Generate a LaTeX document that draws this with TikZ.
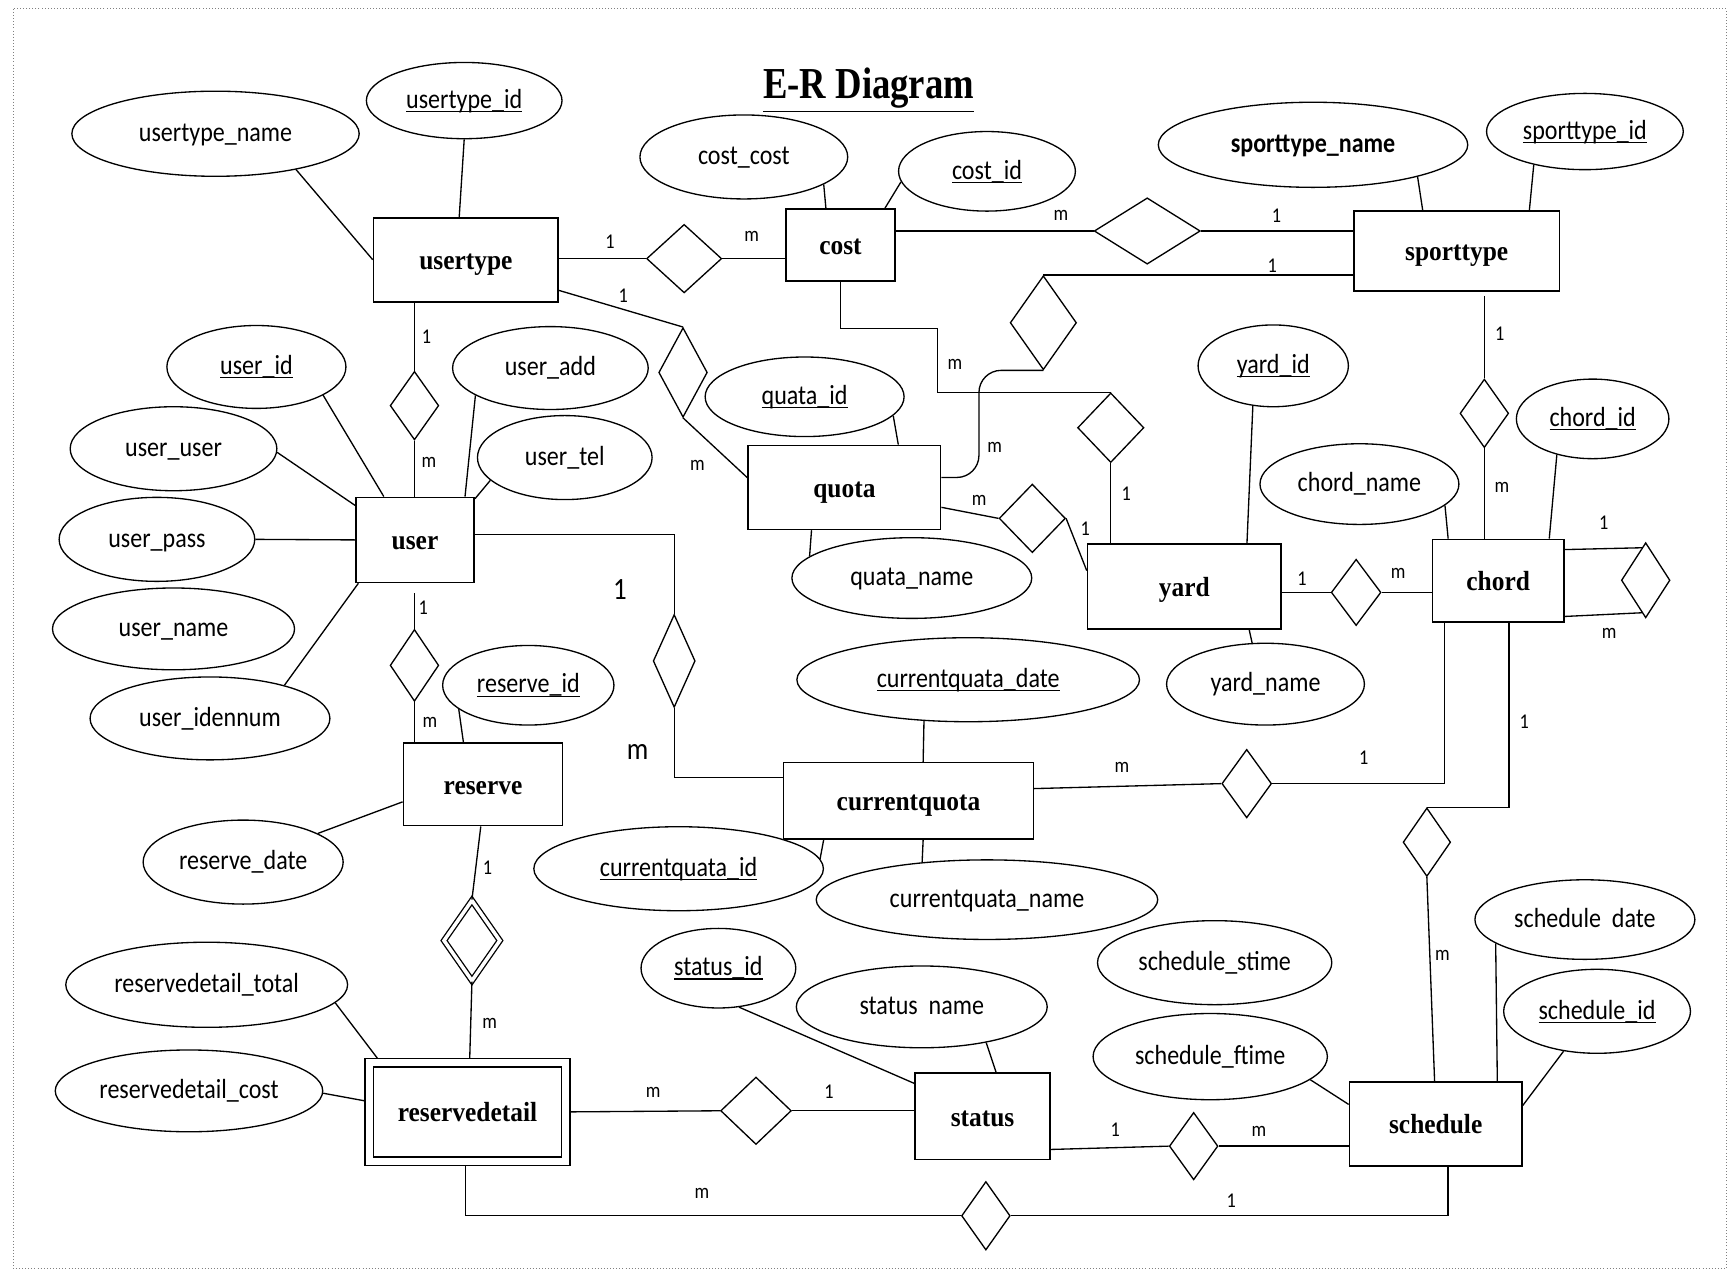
\documentclass[tikz,border=0pt]{standalone}
\usepackage{fontspec}
\setmainfont{Liberation Serif}
\newfontfamily\attrfont[FakeStretch=0.87]{Carlito}
\newfontfamily\entfont[FakeStretch=0.92]{Liberation Serif}
\newfontfamily\ttlfont[FakeStretch=0.83]{Liberation Serif}
\usetikzlibrary{shapes.geometric,calc}
\newsavebox\keybox
\newcommand{\keyul}[1]{\sbox\keybox{#1}\rlap{\rule[-1.7pt]{\wd\keybox}{0.55pt}}\usebox\keybox}
\begin{document}
\begin{tikzpicture}[x=0.5pt,y=-0.5pt,
 ent/.style={draw, rectangle, line width=0.75pt, inner sep=0pt, text height=10pt, text depth=1pt, font=\entfont\fontsize{12.5}{14}\selectfont\bfseries},
 attr/.style={draw, ellipse, line width=0.6pt, inner sep=0pt, text height=9pt, text depth=2pt, font=\attrfont\fontsize{12.5}{14}\selectfont},
 rel/.style={draw, diamond, line width=0.6pt, inner sep=0pt, shape aspect=1},
 lbl/.style={inner sep=0pt, font=\attrfont\fontsize{9.5}{11}\selectfont},
 biglbl/.style={inner sep=0pt, font=\attrfont\fontsize{14}{16}\selectfont},
 conn/.style={line width=0.6pt}
]
\useasboundingbox (0,0) rectangle (1568,1152);
\draw[densely dotted, gray, line width=0.4pt] (12,8) rectangle (1562,1148);

% title
\node[inner sep=0pt, font=\ttlfont\fontsize{20}{24}\selectfont\bfseries] (title) at (786,82) {\underline{E-R Diagram}};

% entities
\node[ent, minimum width=83.5pt, minimum height=38pt] (usertype) at (421.5,235) {usertype};
\node[ent, minimum width=49.5pt, minimum height=32.5pt] (cost) at (760.5,221.5) {cost};
\node[ent, minimum width=93pt, minimum height=36pt] (sporttype) at (1318,227) {sporttype};
\node[ent, minimum width=53.5pt, minimum height=38.5pt] (user) at (375.5,488.5) {user};
\node[ent, minimum width=87pt, minimum height=38pt] (quota) at (764,441) {quota};
\node[ent, minimum width=87.5pt, minimum height=38.5pt] (yard) at (1071.5,530.5) {yard};
\node[ent, minimum width=59.5pt, minimum height=37.5pt] (chord) at (1355.5,525.5) {chord};
\node[ent, minimum width=72pt, minimum height=37.5pt] (reserve) at (437,709.5) {reserve};
\node[ent, minimum width=113pt, minimum height=34.5pt] (currentquota) at (822,724.5) {currentquota};
\node[ent, minimum width=89pt, minimum height=44.5pt, double, line width=0.6pt, double distance=3.2pt] (reservedetail) at (423,1006) {reservedetail};
\node[ent, minimum width=61pt, minimum height=39pt] (status) at (889,1010) {status};
\node[ent, minimum width=78pt, minimum height=38pt] (schedule) at (1299,1017) {schedule};

% attributes
\node[attr, minimum width=130pt, minimum height=38.5pt] (utname) at (195,121) {usertype\_name};
\node[attr, minimum width=88.5pt, minimum height=34.5pt] (utid) at (420,91) {\keyul{usertype\_id}};
\node[attr, minimum width=94pt, minimum height=38pt] (costcost) at (673,142) {cost\_cost};
\node[attr, minimum width=80pt, minimum height=36pt] (costid) at (893,155) {\keyul{cost\_id}};
\node[attr, minimum width=140pt, minimum height=38.5pt, font=\attrfont\fontsize{12.5}{14}\selectfont\bfseries] (stname) at (1188,131) {sporttype\_name};
\node[attr, minimum width=89pt, minimum height=34.5pt] (stid) at (1434,119) {\keyul{sporttype\_id}};
\node[attr, minimum width=81pt, minimum height=37.5pt] (userid) at (232,332) {\keyul{user\_id}};
\node[attr, minimum width=88.5pt, minimum height=37.5pt] (useradd) at (498,333) {user\_add};
\node[attr, minimum width=93.5pt, minimum height=38pt] (useruser) at (157,406) {user\_user};
\node[attr, minimum width=79pt, minimum height=38pt] (usertel) at (511,414) {user\_tel};
\node[attr, minimum width=88.5pt, minimum height=38pt] (userpass) at (142,488) {user\_pass};
\node[attr, minimum width=109.5pt, minimum height=37pt] (username) at (157,569) {user\_name};
\node[attr, minimum width=108.5pt, minimum height=37.5pt] (useriden) at (190,650) {user\_idennum};
\node[attr, minimum width=90pt, minimum height=36pt] (quataid) at (728,359) {\keyul{quata\_id}};
\node[attr, minimum width=108.5pt, minimum height=36.5pt] (quataname) at (825,523) {quata\_name};
\node[attr, minimum width=68pt, minimum height=37pt] (yardid) at (1152,331) {\keyul{yard\_id}};
\node[attr, minimum width=90pt, minimum height=36.5pt] (chordname) at (1230,438) {chord\_name};
\node[attr, minimum width=69pt, minimum height=36pt] (chordid) at (1441,379) {\keyul{chord\_id}};
\node[attr, minimum width=89.5pt, minimum height=37pt] (yardname) at (1145,619) {yard\_name};
\node[attr, minimum width=155pt, minimum height=38pt] (cqdate) at (876,615) {\keyul{currentquata\_date}};
\node[attr, minimum width=77.5pt, minimum height=36pt] (reserveid) at (478,620) {\keyul{reserve\_id}};
\node[attr, minimum width=90.5pt, minimum height=38pt] (reservedate) at (220,780) {reserve\_date};
\node[attr, minimum width=131pt, minimum height=38pt] (cqid) at (614,786) {\keyul{currentquata\_id}};
\node[attr, minimum width=154.5pt, minimum height=36pt] (cqname) at (893,814) {currentquata\_name};
\node[attr, minimum width=70pt, minimum height=36pt] (statusid) at (650,876) {\keyul{status\_id}};
\node[attr, minimum width=113.5pt, minimum height=37pt] (statusname) at (834,911) {status~~name};
\node[attr, minimum width=106pt, minimum height=38pt] (schstime) at (1099,871) {schedule\_stime};
\node[attr, minimum width=106pt, minimum height=39pt] (schftime) at (1095,956) {schedule\_ftime};
\node[attr, minimum width=99.5pt, minimum height=36pt] (schdate) at (1434,832) {schedule~~date};
\node[attr, minimum width=84.5pt, minimum height=38pt] (schid) at (1445,915) {\keyul{schedule\_id}};
\node[attr, minimum width=127.5pt, minimum height=38.5pt] (rdtotal) at (187,891) {reservedetail\_total};
\node[attr, minimum width=121pt, minimum height=37pt] (rdcost) at (171,987) {reservedetail\_cost};

% relationships
\node[rel, minimum width=34pt, minimum height=31pt] (r_uc) at (619,234) {};
\node[rel, minimum width=48pt, minimum height=30pt] (r_cs) at (1038,209) {};
\node[rel, minimum width=22pt, minimum height=31pt] (r_uu) at (375,367) {};
\node[rel, minimum width=22pt, minimum height=40.5pt] (r_uq) at (618,337) {};
\node[rel, minimum width=30pt, minimum height=31.5pt] (r_cy) at (1005,387) {};
\node[rel, minimum width=30pt, minimum height=42.5pt] (r_sq) at (944,292) {};
\node[rel, minimum width=30pt, minimum height=31pt] (r_qy) at (934,469) {};
\node[rel, minimum width=22.5pt, minimum height=30pt] (r_yc) at (1227,536) {};
\node[rel, minimum width=22pt, minimum height=34pt] (r_cc) at (1489,525) {};
\node[rel, minimum width=22pt, minimum height=31pt] (r_sc) at (1343,374) {};
\node[rel, minimum width=19pt, minimum height=42pt] (r_ucq) at (610,598) {};
\node[rel, minimum width=22pt, minimum height=32.5pt] (r_ur) at (375,602) {};
\node[rel, minimum width=25.5pt, minimum height=36.5pt, double, double distance=1.6pt] (r_rr) at (427,851) {};
\node[rel, minimum width=22.5pt, minimum height=31pt] (r_cqc) at (1128,709) {};
\node[rel, minimum width=21.5pt, minimum height=31pt] (r_chs) at (1291,762) {};
\node[rel, minimum width=32pt, minimum height=30.5pt] (r_rs) at (684,1005) {};
\node[rel, minimum width=22pt, minimum height=30.5pt] (r_ss) at (1080,1037) {};
\node[rel, minimum width=22pt, minimum height=31pt] (r_rsch) at (892,1100) {};

\coordinate (bend1) at (848,297);

% relationship connectors
\begin{scope}[conn]
\draw (r_uc.west -| usertype.east) -- (r_uc.west);
\draw (r_uc.east) -- (r_uc.east -| cost.west);
\draw (r_cs.west -| cost.east) -- (r_cs.west);
\draw (r_cs.east) -- (r_cs.east -| sporttype.west);
\draw (usertype.south -| r_uu) -- (r_uu.north);
\draw (r_uu.south) -- (r_uu.south |- user.north);
\draw ($(usertype.south east)+(0,-11)$) -- (r_uq.north);
\draw (r_uq.south) -- ($(quota.north west)+(0,30)$);
\draw (cost.south) |- (bend1) |- (r_cy.north);
\draw (r_cy.south) -- (r_cy.south |- yard.north);
\draw (r_sq.north -| sporttype.west) -- (r_sq.north);
\draw[rounded corners=10pt] (r_sq.south) -| ($(quota.east)+(34,-9)$) [sharp corners] -- ($(quota.east)+(0,-9)$);
\draw ($(quota.east)+(0,18)$) -- (r_qy.west);
\draw (r_qy.east) -- ($(yard.north west)+(0,25)$);
\draw (r_yc.west -| yard.east) -- (r_yc.west);
\draw (r_yc.east) -- (r_yc.east -| chord.west);
\draw ($(chord.north east)+(0,10)$) -- ($(r_cc.north)!0.15!(r_cc.west)$);
\draw ($(chord.south east)+(0,-6)$) -- ($(r_cc.south)!0.15!(r_cc.west)$);
\draw ($(sporttype.south -| r_sc)+(0,4)$) -- (r_sc.north);
\draw (r_sc.south) -- (r_sc.south |- chord.north);
\draw ($(user.east)+(0,-5)$) -| (r_ucq.north);
\draw (r_ucq.south) |- ($(currentquota.west)+(0,-21)$);
\draw ($(user.south -| r_ur)+(0,9)$) -- (r_ur.north);
\draw (r_ur.south) -- (r_ur.south |- reserve.north);
\draw ($(reserve.south)+(-2,0)$) -- (r_rr.north);
\draw (r_rr.south) -- ($(reservedetail.north)+(2,-3.5)$);
\draw ($(currentquota.east)+(0,-11)$) -- (r_cqc.west);
\draw (r_cqc.east) -| ($(chord.south west)+(12,0)$);
\draw ($(chord.south west)+(70,0)$) |- (r_chs.north);
\draw (r_chs.south) -- ($(schedule.north)+(-1,0)$);
\draw ($(reservedetail.east)+(3.5,0)$) -- (r_rs.west);
\draw (r_rs.east) -- (r_rs.east -| status.west);
\draw ($(status.east)+(0,30)$) -- (r_ss.west);
\draw (r_ss.east) -- (r_ss.east -| schedule.west);
\draw ($(reservedetail.south)+(-2,3.5)$) |- (r_rsch.west);
\draw (r_rsch.east) -| ($(schedule.south)+(11,0)$);
\end{scope}

% attribute connectors
\begin{scope}[conn]
\draw (utname.-24.5) -- (usertype.west);
\draw (utid.south) -- ($(usertype.north)+(-6,0)$);
\draw (costcost.-19.5) -- ($(cost.north west)+(37,0)$);
\draw (costid.187) -- ($(cost.north east)+(-10,0)$);
\draw (stname.-17.5) -- ($(sporttype.north west)+(63,0)$);
\draw (stid.-147) -- ($(sporttype.north east)+(-28,0)$);
\draw (userid.-23) -- ($(user.north west)+(26,0)$);
\draw (useruser.-2.5) -- ($(user.north west)+(0,8)$);
\draw (userpass.east) -- (user.west);
\draw (useriden.24.6) -- ($(user.south west)+(3,0)$);
\draw (useradd.200.7) -- ($(user.north east)+(-9,0)$);
\draw (usertel.197.4) -- ($(user.north east)+(0,2)$);
\draw (quataid.-12.7) -- ($(quota.north east)+(-39,0)$);
\draw (quataname.168.4) -- ($(quota.south west)+(58,0)$);
\draw (yardid.-117.8) -- ($(yard.north west)+(145,0)$);
\draw (yardname.108.4) -- ($(yard.south west)+(147,0)$);
\draw (chordname.-14.4) -- ($(chord.north west)+(15,0)$);
\draw (chordid.-135) -- ($(chord.north east)+(-14,0)$);
\draw (cqdate.-137) -- ($(currentquota.north west)+(127,0)$);
\draw (cqid.4.5) -- ($(currentquota.south west)+(37,0)$);
\draw (cqname.150) -- ($(currentquota.south west)+(127,0)$);
\draw (reserveid.199.5) -- ($(reserve.north west)+(55,0)$);
\draw (reservedate.21.3) -- ($(reserve.west)+(0,16)$);
\draw (rdtotal.-8) -- ($(reservedetail.north west)+(8,-3.5)$);
\draw (rdcost.-1.4) -- ($(reservedetail.west)+(-3.5,-10)$);
\draw (statusid.-62) -- ($(status.north west)+(0,10)$);
\draw (statusname.-29) -- ($(status.north west)+(74,0)$);
\draw (schftime.-13) -- ($(schedule.north west)+(0,21)$);
\draw (schdate.195.3) -- ($(schedule.north east)+(-23,0)$);
\draw (schid.-130) -- ($(schedule.north east)+(0,22)$);
\end{scope}

% cardinality labels
\node[lbl] (l1) at (552,219) {1};
\node[lbl] (l2) at (680,214) {m};
\node[lbl] (l3) at (960,195) {m};
\node[lbl] (l4) at (1155,195) {1};
\node[lbl] (l5) at (1151,240) {1};
\node[lbl] (l6) at (564,268) {1};
\node[lbl] (l7) at (631,421) {m};
\node[lbl] (l8) at (386,305) {1};
\node[lbl] (l9) at (388,418) {m};
\node[lbl] (l10) at (864,330) {m};
\node[lbl] (l11) at (1019,447) {1};
\node[lbl] (l12) at (900,405) {m};
\node[lbl] (l13) at (886,453) {m};
\node[lbl] (l14) at (982,478) {1};
\node[lbl] (l15) at (1178,524) {1};
\node[lbl] (l16) at (1265,519) {m};
\node[lbl] (l17) at (1451,473) {1};
\node[lbl] (l18) at (1456,573) {m};
\node[lbl] (l19) at (1357,302) {1};
\node[lbl] (l20) at (1359,441) {m};
\node[biglbl] (l21) at (561,533) {1};
\node[biglbl] (l22) at (577,680) {m};
\node[lbl] (l23) at (383,550) {1};
\node[lbl] (l24) at (389,654) {m};
\node[lbl] (l25) at (441,785) {1};
\node[lbl] (l26) at (443,926) {m};
\node[lbl] (l27) at (1015,694) {m};
\node[lbl] (l28) at (1234,686) {1};
\node[lbl] (l29) at (1379,653) {1};
\node[lbl] (l30) at (1305,864) {m};
\node[lbl] (l31) at (591,988) {m};
\node[lbl] (l32) at (750,988) {1};
\node[lbl] (l33) at (1009,1022) {1};
\node[lbl] (l34) at (1139,1024) {m};
\node[lbl] (l35) at (635,1080) {m};
\node[lbl] (l36) at (1114,1086) {1};
\end{tikzpicture}
\end{document}
